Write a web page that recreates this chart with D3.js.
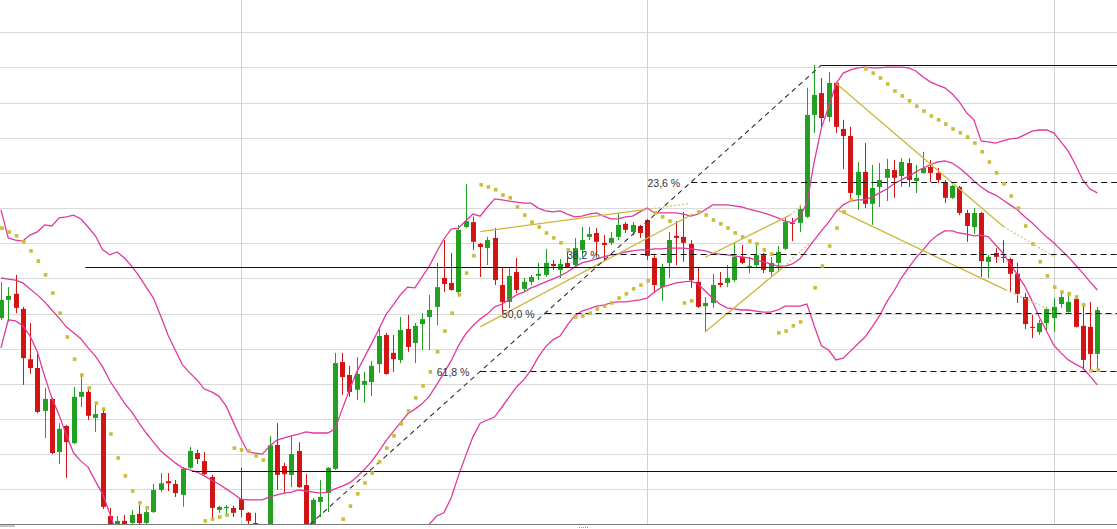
<!DOCTYPE html>
<html><head><meta charset="utf-8">
<script src="https://cdn.jsdelivr.net/npm/d3@7"></script>
<style>html,body{margin:0;padding:0;background:#fff;overflow:hidden}svg{display:block}</style>
</head><body><svg id="c" width="1117" height="529"></svg>
<script>
// ---- data (prices) ----
const open = [
15.87,16.39,16.56,16.13,14.70,14.45,13.23,13.57,12.06,12.80,
12.31,13.63,13.77,13.03,13.17,10.24,9.99,10.10,10.04,10.30,
10.04,10.35,10.98,11.23,11.15,10.84,11.61,12.03,11.80,11.35,
10.41,10.46,10.47,10.72,10.33,10.04,9.70,9.20,12.26,11.66,
11.41,12.09,11.12,9.84,10.64,10.89,11.58,14.62,14.25,13.83,
13.97,14.05,14.56,15.39,14.88,14.68,15.56,15.16,15.70,15.90,
16.19,17.01,16.87,16.61,18.46,18.60,17.98,17.86,18.15,16.81,
16.33,17.18,16.70,16.90,17.07,17.10,17.41,17.24,17.44,17.38,
17.81,18.18,18.29,18.01,18.01,18.18,18.55,18.32,18.49,18.66,
17.58,16.75,17.44,18.21,18.18,17.98,16.90,16.21,16.30,16.87,
16.87,16.95,17.61,17.32,17.38,17.66,17.18,17.44,17.84,18.58,
18.58,18.75,21.65,22.27,21.59,22.56,21.25,21.05,19.37,20.03,
19.12,19.60,19.86,20.08,19.91,20.28,19.77,20.00,20.17,20.00,
19.74,19.29,19.60,18.86,18.46,18.86,17.47,17.72,17.61,17.55,
17.13,16.47,15.62,15.47,15.73,15.87,16.27,16.04,16.41,15.65,
15.62,14.85];
const high = [
16.90,16.75,17.10,16.19,15.73,14.91,13.88,13.60,12.88,12.83,
13.91,14.28,13.91,13.48,13.28,10.47,10.24,10.27,10.41,10.55,
10.50,11.15,11.46,11.46,11.26,11.63,12.20,12.12,12.06,11.41,
10.53,10.55,10.53,11.61,10.35,10.33,9.90,12.51,12.88,11.75,
12.51,12.34,11.43,10.75,11.26,11.63,14.88,14.88,14.51,14.76,
14.34,14.65,15.62,15.45,15.39,15.90,15.96,15.73,16.01,16.53,
17.44,18.09,17.72,18.52,19.69,18.75,18.01,18.18,18.43,17.32,
17.30,17.58,17.01,17.10,17.44,17.84,17.52,17.55,17.84,18.15,
18.46,18.46,18.43,18.23,18.32,18.86,18.60,18.60,18.52,18.69,
17.66,17.41,18.32,18.63,18.89,18.09,17.32,16.47,17.13,17.18,
17.38,18.01,17.95,17.61,17.95,17.72,17.61,17.92,18.75,18.72,
19.09,22.42,23.07,22.70,22.87,22.59,21.51,21.31,20.31,20.85,
20.23,20.28,20.40,20.37,20.42,20.42,20.23,20.60,20.37,20.14,
19.80,19.66,19.63,18.95,19.00,18.89,17.66,17.86,18.09,17.58,
17.44,16.58,15.96,15.82,16.19,16.44,16.61,16.58,16.47,16.30,
16.33,16.19];
const low = [
15.82,15.76,16.01,13.97,14.28,13.17,12.46,12.00,11.72,11.32,
12.29,13.34,12.97,12.63,10.44,9.70,9.93,9.96,9.93,9.93,
9.93,10.33,10.92,10.95,10.78,10.50,11.58,11.72,11.41,10.18,
10.33,10.21,10.21,10.21,10.01,9.70,9.05,8.97,10.98,10.89,
11.06,11.04,9.84,9.78,10.21,10.35,11.55,13.68,13.63,13.54,
13.46,13.65,14.31,14.26,14.34,14.59,14.91,14.59,14.96,14.96,
15.67,16.61,16.65,16.58,18.43,17.81,17.04,17.38,16.81,16.01,
16.16,16.58,16.61,16.81,16.95,17.04,17.24,17.01,17.30,17.32,
17.61,18.09,17.66,17.49,17.95,18.09,18.29,18.23,18.15,17.52,
16.58,16.36,17.01,17.38,17.47,16.73,16.16,15.47,16.16,16.75,
16.75,16.90,17.41,17.15,17.30,17.15,17.04,17.18,17.81,18.06,
18.32,18.72,21.14,21.28,21.45,21.14,20.11,19.23,18.95,19.00,
18.52,19.03,19.20,19.29,19.60,19.60,19.43,19.98,19.74,19.71,
19.14,19.26,18.80,18.04,18.26,17.04,17.01,17.44,17.44,16.61,
16.30,15.56,15.30,15.39,15.53,15.47,16.16,16.02,15.60,14.39,
14.39,14.39];
const close = [
16.39,16.50,16.16,14.73,14.45,13.20,13.57,12.03,12.72,12.34,
13.63,13.77,13.09,13.14,10.50,9.84,10.10,10.01,10.27,10.04,
10.35,10.98,11.17,11.17,10.89,11.58,12.09,11.86,11.43,10.47,
10.50,10.50,10.33,10.41,10.10,9.84,9.20,12.25,11.41,11.43,
12.00,11.06,9.90,10.70,10.78,11.61,14.59,14.19,13.77,14.28,
14.08,14.51,15.36,14.28,14.70,15.53,15.05,15.65,15.84,16.10,
16.75,16.84,16.67,18.38,18.63,18.04,17.89,18.09,16.95,16.33,
17.07,16.67,16.90,17.04,17.13,17.44,17.35,17.41,17.32,17.86,
18.09,18.26,18.04,17.95,18.15,18.52,18.38,18.52,18.29,17.64,
16.81,17.30,18.09,18.15,18.01,16.95,16.19,16.30,16.81,16.81,
17.01,17.61,17.44,17.35,17.66,17.24,17.44,17.75,18.60,18.55,
18.97,21.65,22.22,21.56,22.56,21.31,21.05,19.43,20.03,19.12,
19.57,19.80,20.11,19.86,20.31,19.80,19.86,20.14,20.00,19.80,
19.29,19.63,18.86,18.49,18.86,17.49,17.61,17.61,17.58,17.13,
16.56,15.70,15.59,15.73,16.13,16.19,16.47,16.33,15.62,14.68,
14.85,16.10];

const upperBand = [
18.95,18.15,18.09,18.06,18.23,18.32,18.52,18.49,18.72,18.75,
18.80,18.69,18.46,18.21,17.81,17.67,17.75,17.58,17.35,17.07,
16.75,16.44,15.93,15.39,14.96,14.54,14.31,14.11,13.85,13.77,
13.65,13.37,12.91,12.46,12.06,12.03,12.00,12.23,12.40,12.46,
12.52,12.57,12.63,12.60,12.60,12.60,12.71,13.28,13.83,14.34,
14.73,15.13,15.53,15.96,16.24,16.53,16.75,16.73,17.04,17.35,
17.75,18.12,18.40,18.43,18.63,18.83,18.77,19.03,19.26,19.23,
19.20,19.17,19.14,19.14,19.00,18.92,18.89,18.92,18.83,18.75,
18.77,18.83,18.86,18.77,18.69,18.69,18.75,18.77,18.89,19.00,
18.86,18.86,18.86,18.86,18.83,18.77,18.83,18.95,19.09,19.09,
19.09,19.06,19.03,18.97,18.92,18.86,18.80,18.72,18.63,18.58,
18.75,19.14,20.31,21.28,21.88,22.53,22.84,22.93,22.99,23.01,
22.99,22.99,23.01,23.01,23.01,22.99,22.90,22.73,22.59,22.50,
22.42,22.25,22.02,21.71,21.51,20.91,20.88,20.85,20.91,20.97,
20.99,21.08,21.19,21.22,21.22,21.14,20.88,20.62,20.23,19.80,
19.54,19.43];
const middleBand = [
17.01,16.98,16.95,16.87,16.70,16.53,16.33,16.10,15.87,15.62,
15.45,15.28,15.02,14.79,14.48,14.08,13.77,13.45,13.20,12.89,
12.60,12.34,12.09,11.92,11.75,11.61,11.55,11.49,11.38,11.26,
11.15,11.01,10.87,10.72,10.70,10.70,10.70,10.78,10.84,10.89,
10.92,10.98,10.95,10.92,10.89,10.92,11.01,11.09,11.18,11.35,
11.55,11.78,12.06,12.37,12.63,12.89,13.14,13.28,13.43,13.65,
13.97,14.31,14.65,15.08,15.42,15.65,15.84,15.99,16.19,16.27,
16.39,16.53,16.61,16.73,16.81,16.90,16.98,17.07,17.18,17.32,
17.44,17.49,17.55,17.61,17.67,17.69,17.75,17.78,17.81,17.81,
17.84,17.84,17.86,17.86,17.86,17.84,17.81,17.78,17.72,17.69,
17.67,17.64,17.61,17.58,17.52,17.47,17.41,17.35,17.35,17.41,
17.55,17.81,18.09,18.35,18.60,18.89,19.09,19.20,19.23,19.23,
19.32,19.43,19.54,19.69,19.80,19.91,20.03,20.14,20.23,20.31,
20.34,20.28,20.14,19.97,19.77,19.60,19.46,19.37,19.23,19.09,
18.95,18.75,18.58,18.38,18.18,18.01,17.81,17.61,17.38,17.15,
16.90,16.67];
// lower band: values hidden below the chart floor are left out (null)
const lowerBand = [
15.02,15.82,15.79,15.65,15.36,14.91,14.22,13.60,13.11,12.54,
12.03,11.80,11.63,11.23,10.87,10.30,9.70,
null,null,null,null,null,null,null,null,null,null,
null,null,null,null,null,null,null,null,null,null,
null,null,null,null,null,null,null,null,null,null,
null,null,null,null,null,null,null,null,null,null,null,
9.70,10.01,10.24,10.33,10.75,11.38,11.95,12.49,12.88,12.97,13.06,13.34,
13.63,13.91,14.11,14.39,14.76,15.05,15.25,15.36,15.67,15.93,
16.07,16.13,16.21,16.24,16.30,16.33,16.33,16.36,16.39,16.44,
16.61,16.75,16.81,16.87,16.90,16.92,16.84,16.64,16.44,16.27,
16.16,16.13,16.10,16.10,16.07,16.04,16.04,16.10,16.21,16.21,
16.21,16.27,15.65,15.08,14.96,14.68,14.73,14.93,15.13,15.33,
15.62,15.93,16.33,16.64,17.01,17.30,17.58,17.81,18.06,18.23,
18.35,18.35,18.29,18.26,18.21,18.23,18.18,17.95,17.72,17.41,
17.10,16.78,16.36,15.90,15.50,15.10,14.88,14.68,14.56,14.45,
14.22,13.97];

// parabolic SAR dots that are visible: [bar index, price]
const sarDots = [[0,18.43],[1,18.32],[2,18.21],[3,18.04],[4,17.78],[5,17.49],[6,17.10],[7,16.58],[8,16.01],[9,15.33],[10,14.70],[11,14.25],[12,13.88],[13,13.45],[14,13.28],[15,12.57],[16,11.89],[17,11.38],[18,10.95],[19,10.61],[20,10.47],
[28,10.10],[29,10.15],[30,10.21],[31,10.27],[32,12.17],[33,12.12],[34,12.09],[35,11.95],[36,11.83],
[47,10.15],[48,10.52],[49,10.87],[50,11.18],[51,11.46],[52,11.78],[53,12.17],[54,12.52],[55,12.86],[56,13.23],[57,13.60],[58,13.94],[59,14.34],[60,14.91],[61,15.50],[62,16.01],[63,16.53],[64,17.15],[65,17.64],
[66,19.66],[67,19.60],[68,19.52],[69,19.37],[70,19.29],[71,19.03],[72,18.80],[73,18.60],[74,18.46],[75,18.29],[76,18.15],[77,18.01],[78,17.81],
[79,15.90],[80,15.93],[81,16.01],[82,16.13],[83,16.21],[84,16.30],[85,16.44],[86,16.56],[87,16.70],[88,16.81],[89,16.93],
[90,18.86],[91,18.75],[92,18.63],[94,16.30],[95,16.36],
[96,18.89],[97,18.80],[98,18.66],[99,18.55],[100,18.43],[101,18.29],[102,18.18],[103,18.06],[104,17.98],[105,17.81],[106,17.69],
[107,15.45],[108,15.50],[109,15.65],[110,15.76],[112,16.73],[113,17.35],[114,17.92],[115,18.43],[116,18.89],[117,19.23],
[119,22.96],[120,22.84],[121,22.70],[122,22.53],[123,22.33],[124,22.19],[125,22.05],[126,21.90],[127,21.76],[128,21.62],[129,21.51],[130,21.39],[131,21.25],[132,21.14],[133,21.02],[134,20.85],[135,20.60],[136,20.31],[137,20.00],[138,19.69],[139,19.34],[140,19.00],[141,18.49],[142,17.98],[143,17.47],[144,17.07],[145,16.75],[146,16.61],[147,16.56],[148,16.47],[149,16.24],
[150,14.37],[151,14.39]];

const gridPrices = [11,12,13,14,15,16,17,18,19,20,21,22,23,24];
const periodStartBars = [33, 89, 145];

// Fibonacci retracement
const fibLow = [37, 8.97];    // [bar, price]
const fibHigh = [113, 23.07];
const fibRatios = [0.236, 0.382, 0.5, 0.618];
const fibLabels = ["23,6 %", "38,2 %", "50,0 %", "61,8 %"];

// horizontal support/resistance lines: [start bar, price]
const levelLines = [[11.6, 17.32], [26.3, 11.53], [113, 23.07]];

// trend lines: start, end, dotted extension end  ([bar, price])
const trendStart = [[66.0,18.33],[66.0,15.62],[97,15.48],[97,17.60],[115,22.55],[115,18.97]];
const trendEnd   = [[88.9,18.96],[95.3,18.83],[107.8,17.33],[108.7,18.80],[138.1,18.47],[138.4,16.67]];
const trendExt   = [[94.9,19.13],null,[111.4,18.00],[110.3,19.09],[145,17.62],[145,16.05]];

// ---- drawing ----
const W = 1117, H = 529, floorY = 524.4;
const svg = d3.select("#c");
const x = d3.scaleLinear().domain([0, 151]).range([1, 1097.3]);
const y = d3.scaleLinear().domain([10, 24]).range([floorY, 32.3]);

svg.append("defs").append("clipPath").attr("id","clip")
  .append("rect").attr("x",0).attr("y",0).attr("width",W).attr("height",floorY);

// grid
svg.append("g").selectAll("line").data(gridPrices).join("line")
  .attr("x1",0).attr("x2",W).attr("y1",d=>Math.round(y(d))+0.5).attr("y2",d=>Math.round(y(d))+0.5)
  .attr("stroke","#dadada").attr("stroke-width",1);
svg.append("g").selectAll("line").data(periodStartBars).join("line")
  .attr("x1",d=>Math.round(x(d))+0.5).attr("x2",d=>Math.round(x(d))+0.5).attr("y1",0).attr("y2",floorY)
  .attr("stroke","#d2d2d2").attr("stroke-width",1);

const plot = svg.append("g").attr("clip-path","url(#clip)");

// candles
const bars = d3.range(open.length);
const up = i => close[i] >= open[i];
const cg = plot.append("g");
cg.selectAll("line").data(bars).join("line")
  .attr("x1",i=>Math.round(x(i))+0.5).attr("x2",i=>Math.round(x(i))+0.5)
  .attr("y1",i=>y(high[i])).attr("y2",i=>y(low[i]))
  .attr("stroke",i=>up(i)?"#21a021":"#d21414").attr("stroke-width",1);
cg.selectAll("rect").data(bars).join("rect")
  .attr("x",i=>Math.round(x(i))-2).attr("width",5)
  .attr("y",i=>y(Math.max(open[i],close[i])))
  .attr("height",i=>Math.max(1, Math.abs(y(open[i])-y(close[i]))))
  .attr("fill",i=>up(i)?"#21a021":"#d21414");

// Bollinger bands
const bandLine = d3.line().defined(d=>d!=null).x((d,i)=>x(i)).y(d=>y(d));
[upperBand, middleBand, lowerBand].forEach(b=>{
  plot.append("path").datum(b).attr("d",bandLine)
    .attr("fill","none").attr("stroke","#e0399e").attr("stroke-width",1.3);
});

// trend lines
trendStart.forEach((s,k)=>{
  const e = trendEnd[k];
  plot.append("line").attr("x1",x(s[0])).attr("y1",y(s[1])).attr("x2",x(e[0])).attr("y2",y(e[1]))
    .attr("stroke","#cdb739").attr("stroke-width",1.3);
  const t = trendExt[k];
  if (t) plot.append("line").attr("x1",x(e[0])).attr("y1",y(e[1])).attr("x2",x(t[0])).attr("y2",y(t[1]))
    .attr("stroke","#dcc770").attr("stroke-width",1.3).attr("stroke-dasharray","2,2");
});

// level lines
plot.append("g").selectAll("line").data(levelLines).join("line")
  .attr("x1",d=>x(d[0])).attr("x2",W).attr("y1",d=>Math.round(y(d[1]))+0.5).attr("y2",d=>Math.round(y(d[1]))+0.5)
  .attr("stroke","#111").attr("stroke-width",1.2);

// fibonacci
plot.append("line").attr("x1",x(fibLow[0])).attr("y1",y(fibLow[1])).attr("x2",x(fibHigh[0])).attr("y2",y(fibHigh[1]))
  .attr("stroke","#333").attr("stroke-width",1.1).attr("stroke-dasharray","5,4");
fibRatios.forEach((r,k)=>{
  const p = fibHigh[1] - r*(fibHigh[1]-fibLow[1]);
  const b = fibHigh[0] - r*(fibHigh[0]-fibLow[0]);
  const yy = Math.round(y(p))+0.5;
  plot.append("line").attr("x1",x(b)).attr("x2",W).attr("y1",yy).attr("y2",yy)
    .attr("stroke","#111").attr("stroke-width",1.1).attr("stroke-dasharray","6,4");
  plot.append("text").attr("x",x(b)-11).attr("y",yy+1.5).attr("text-anchor","end")
    .attr("dominant-baseline","middle").attr("font-family","Liberation Sans, Arial, sans-serif")
    .attr("font-size","10.5px").attr("fill","#333").text(fibLabels[k]);
});

// SAR
plot.append("g").selectAll("rect").data(sarDots).join("rect")
  .attr("x",d=>x(d[0])-0.8).attr("y",d=>y(d[1])-1.8).attr("width",3.6).attr("height",3.6)
  .attr("fill","#c9bd3b");

// floor line & scroller marks
svg.append("line").attr("x1",0).attr("x2",W).attr("y1",floorY+0.1).attr("y2",floorY+0.1)
  .attr("stroke","#7c7c7c").attr("stroke-width",1.2);
svg.append("rect").attr("x",0).attr("y",525).attr("width",15).attr("height",2).attr("fill","#c4c4c4");
svg.append("line").attr("x1",579).attr("x2",589).attr("y1",527.5).attr("y2",527.5)
  .attr("stroke","#999").attr("stroke-width",1).attr("stroke-dasharray","1,1");
</script>
</body></html>
